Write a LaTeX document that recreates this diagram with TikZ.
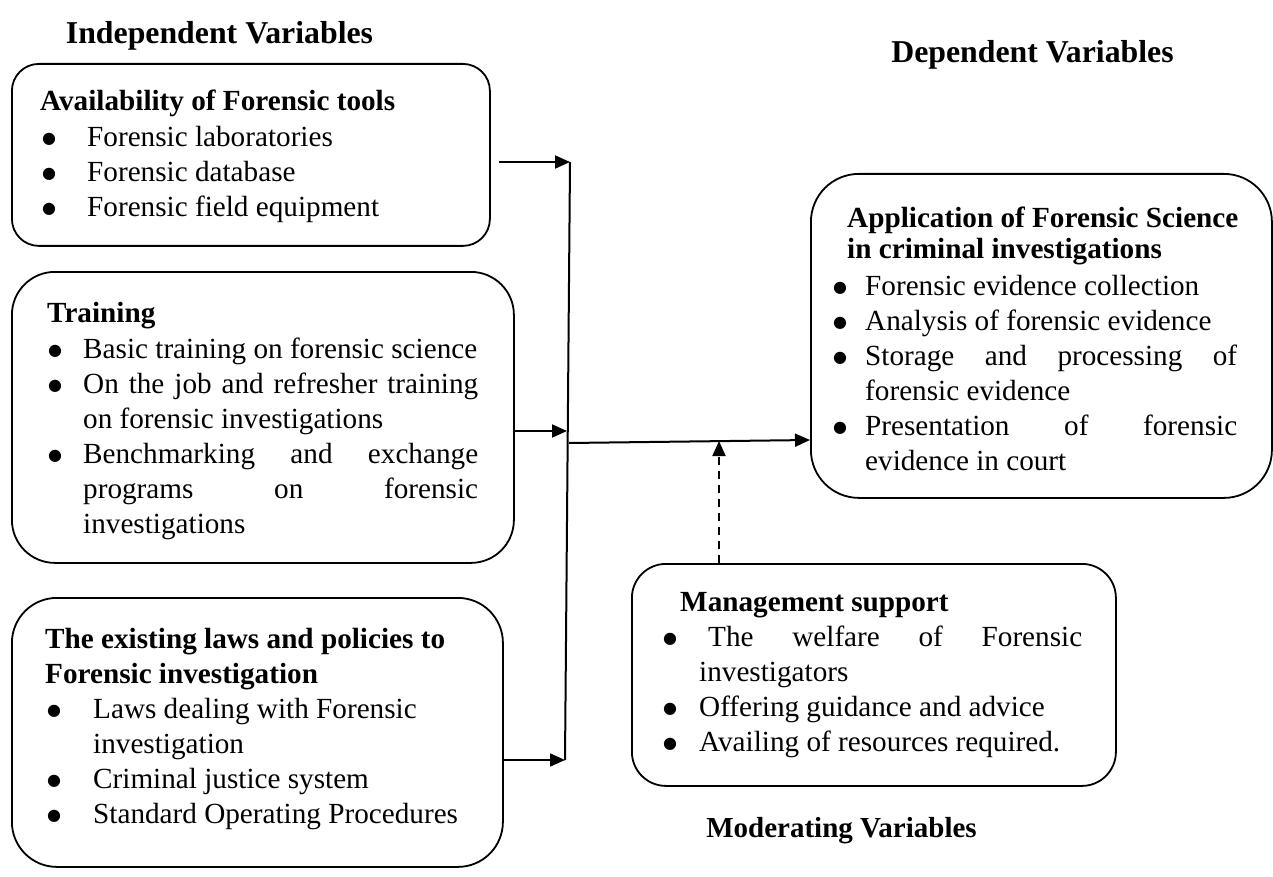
\documentclass[tikz,border=0pt]{standalone}
\usepackage{fontspec}
\setmainfont{Liberation Serif}
\newfontfamily\dvfont{DejaVu Sans}
\usetikzlibrary{arrows.meta}
\newcommand\bigbul{\raisebox{3pt}{\dvfont\fontsize{16pt}{16pt}\selectfont ●}}
\newcommand\bl[2]{\hspace*{#1}\makebox[#2][l]{\bigbul}}
\begin{document}
\begin{tikzpicture}[x=1pt,y=-1pt,
  box/.style={draw, line width=1.8pt, rounded corners=#1, inner sep=0pt, anchor=north west},
  txt/.style={anchor=north west, inner sep=0pt, align=left, font=\fontsize{29.2pt}{35pt}\selectfont},
  ttl/.style={anchor=base, inner sep=0pt, font=\fontsize{31.8pt}{36pt}\selectfont\bfseries},
  arr/.style={line width=2pt, -{Triangle[length=15pt,width=13pt]}},
  darr/.style={arr, dash pattern=on 8pt off 6pt},
]
\useasboundingbox (0,0) rectangle (1273,877);

% titles
\node[ttl] (ti) at (219.5,44) {Independent Variables};
\node[ttl] (td) at (1032.5,63) {Dependent Variables};
\node[ttl, font=\fontsize{29pt}{34pt}\selectfont\bfseries] (tm) at (841.5,837) {Moderating Variables};

% boxes
\node[box=27pt, minimum width=478pt, minimum height=182pt] (b1) at (11,63) {};
\node[box=43pt, minimum width=502pt, minimum height=291pt] (b2) at (11,271) {};
\node[box=45pt, minimum width=491pt, minimum height=269pt] (b3) at (11,597) {};
\node[box=48pt, minimum width=461pt, minimum height=324pt] (b4) at (810,173) {};
\node[box=34pt, minimum width=484pt, minimum height=222pt] (b5) at (631,563) {};

% texts
\node[txt] (t1) at (40,90) {\textbf{Availability of Forensic tools}\\[1pt]
\bl{2pt}{45pt}Forensic laboratories\\
\bl{2pt}{45pt}Forensic database\\
\bl{2pt}{45pt}Forensic field equipment};

\node[txt] (t2) at (47,302) {\textbf{Training}\\[1pt]
\bl{1pt}{35pt}Basic training on forensic science\\
\bl{1pt}{35pt}\makebox[395pt][s]{On the job and refresher training}\\
\hspace*{36pt}on forensic investigations\\
\bl{1pt}{35pt}\makebox[395pt][s]{Benchmarking and exchange}\\
\hspace*{36pt}\makebox[395pt][s]{programs on forensic}\\
\hspace*{36pt}investigations};

\node[txt] (t3) at (45,628) {\textbf{The existing laws and policies to}\\
\textbf{Forensic investigation}\\
\bl{2pt}{46pt}Laws dealing with Forensic\\
\hspace*{48pt}investigation\\
\bl{2pt}{46pt}Criminal justice system\\
\bl{2pt}{46pt}Standard Operating Procedures};

\node[txt] (t4) at (833,207) {\hspace*{14pt}\textbf{Application of Forensic Science}\\[-4pt]
\hspace*{14pt}\textbf{in criminal investigations}\\[2pt]
\bl{0pt}{32pt}Forensic evidence collection\\
\bl{0pt}{32pt}Analysis of forensic evidence\\
\bl{0pt}{32pt}\makebox[372pt][s]{Storage and processing of}\\
\hspace*{32pt}forensic evidence\\
\bl{0pt}{32pt}\makebox[372pt][s]{Presentation of forensic}\\
\hspace*{32pt}evidence in court};

\node[txt] (t5) at (663,592) {\hspace*{17pt}\textbf{Management support}\\
\bl{0pt}{36pt}\makebox[383pt][s]{\hspace{9pt}The welfare of Forensic}\\
\hspace*{36pt}investigators\\
\bl{0pt}{36pt}Offering guidance and advice\\
\bl{0pt}{36pt}Availing of resources required.};

% connectors
\coordinate (vt) at (570,162);
\coordinate (vm) at (567,431);
\coordinate (vb) at (565,760);
\coordinate (vo) at (569,443);
\coordinate (ot) at (810,440);
\coordinate (dt) at (719,441);

\draw[line width=2pt] (vt) -- (vb);
\draw[arr] ([xshift=8pt]b1.east |- vt) -- (vt);
\draw[arr] (b2.east |- vm) -- (vm);
\draw[arr] (b3.east |- vb) -- (vb);
\draw[arr] (vo) -- (b4.west |- ot);
\draw[darr] (dt |- b5.north) -- (dt);
\end{tikzpicture}
\end{document}
